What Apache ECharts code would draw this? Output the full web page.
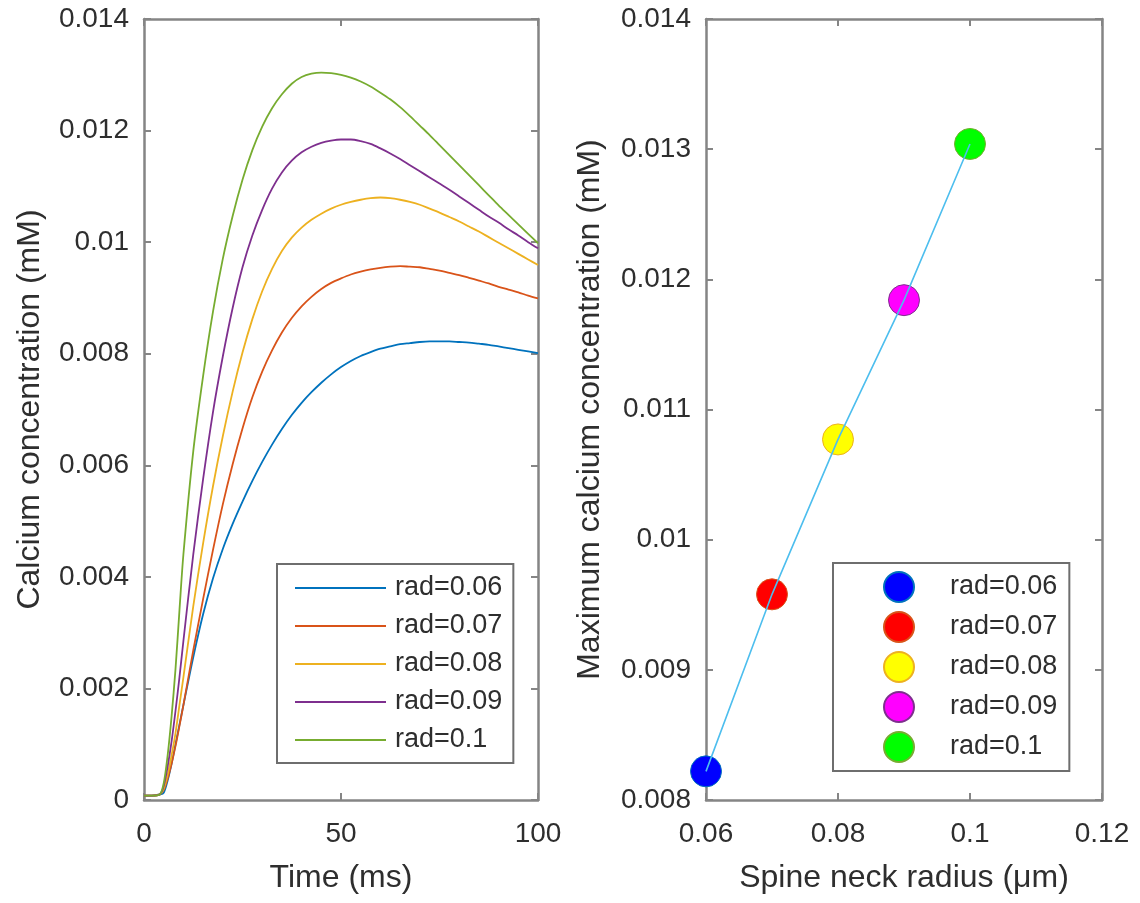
<!DOCTYPE html>
<html>
<head>
<meta charset="utf-8">
<script src="https://cdn.jsdelivr.net/npm/echarts@6/dist/echarts.min.js"></script>
<style>
html,body{margin:0;padding:0;background:#fff;}
#chart{width:1140px;height:903px;}
</style>
</head>
<body>
<div id="chart"></div>
<script>
// ---- Data (left panel: calcium concentration vs time) ----
const timeMs = [0, 2, 4, 5, 6, 7, 8, 9, 10, 12.5, 15, 17.5, 20, 22.5, 25, 27.5, 30, 32.5, 35, 37.5, 40, 42.5, 45, 47.5, 50, 52.5, 55, 57.5, 60, 62.5, 65, 67.5, 70, 72.5, 75, 77.5, 80, 82.5, 85, 87.5, 90, 92.5, 95, 97.5, 100];
const ca006 = [0.00008,0.00008,0.0001,0.00013,0.00035,0.00065,0.001,0.00135,
  0.0017,0.00256,0.00333,0.00397,0.0045,0.00495,0.00535,0.00572,0.00606,0.00637,0.00665,0.0069,0.00712,0.00731,0.00748,0.00763,0.00776,0.00787,0.00796,0.00803,0.00809,0.00813,0.00817,0.00819,0.00821,0.00822,0.00822,0.00822,0.00821,0.0082,0.00818,0.00816,0.00813,0.0081,0.00807,0.00804,0.00801];
const ca007 = [0.00008,0.00008,0.0001,0.00018,0.00038,0.00065,0.00097,0.00133,
  0.0017,0.00268,0.0036,0.00448,0.0053,0.00602,0.00666,0.00722,0.00768,0.00806,0.00838,0.00864,0.00885,0.00902,0.00916,0.00927,0.00935,0.00942,0.00947,0.00951,0.00954,0.00956,0.00957,0.00956,0.00955,0.00952,0.00949,0.00945,0.00941,0.00936,0.00931,0.00926,0.0092,0.00915,0.0091,0.00904,0.00899];
const ca008 = [0.00008,0.00008,0.0001,0.0002,0.00045,0.0008,0.0012,0.0017,
  0.0022,0.00347,0.0046,0.00562,0.00652,0.00732,0.00802,0.00862,0.00912,0.00952,0.00984,0.01008,0.01026,0.0104,0.01051,0.0106,0.01067,0.01072,0.01076,0.01079,0.0108,0.01079,0.01076,0.01072,0.01067,0.0106,0.01053,0.01045,0.01037,0.01028,0.01019,0.01009,0.00999,0.00989,0.00979,0.00969,0.00959];
const ca009 = [0.00008,0.00008,0.0001,0.00025,0.0006,0.00105,0.0016,0.0022,
  0.00285,0.0044,0.00575,0.00695,0.00795,0.00882,0.00955,0.01012,0.01058,0.01096,0.01125,0.01146,0.01161,0.01171,0.01178,0.01182,0.01184,0.01184,0.01181,0.01176,0.01168,0.01159,0.01149,0.01138,0.01127,0.01116,0.01105,0.01094,0.01082,0.0107,0.01058,0.01046,0.01035,0.01023,0.01012,0.01,0.00989];
const ca010 = [0.00008,0.00008,0.0001,0.0003,0.0008,0.0015,0.00235,0.0034,
  0.0044,0.00625,0.0076,0.00875,0.0097,0.01047,0.01112,0.01165,0.01207,0.0124,0.01265,0.01284,0.01296,0.01302,0.01304,0.01303,0.013,0.01295,0.01288,0.01279,0.01268,0.01256,0.01242,0.01226,0.01209,0.01192,0.01174,0.01156,0.01138,0.0112,0.01102,0.01084,0.01066,0.01049,0.01032,0.01015,0.00998];
const seriesNames = ['rad=0.06','rad=0.07','rad=0.08','rad=0.09','rad=0.1'];

// ---- Data (right panel: max calcium vs neck radius) ----
const neckRadius = [0.06, 0.07, 0.08, 0.09, 0.1];
const maxCalcium = [0.00822, 0.00958, 0.01077, 0.01184, 0.01304];

// ---- Tick labels ----
const leftXTicks = ['0','50','100'];
const leftYTicks = ['0','0.002','0.004','0.006','0.008','0.01','0.012','0.014'];
const rightXTicks = ['0.06','0.08','0.1','0.12'];
const rightYTicks = ['0.008','0.009','0.01','0.011','0.012','0.013','0.014'];

const lineColors = ['#0072BD','#D95319','#EDB120','#7E2F8E','#77AC30'];
const markerFill = ['#0000FF','#FF0000','#FFFF00','#FF00FF','#00FF00'];
const FONT = '"Liberation Sans", Arial, Helvetica, sans-serif';
const AX = '#858585';
const TXT = '#2e2e2e';

const curves = [ca006, ca007, ca008, ca009, ca010];

function baseAxis(extra){
  return Object.assign({
    type:'value',
    axisLine:{show:true, onZero:false, lineStyle:{color:AX, width:2.5}},
    axisTick:{show:true, inside:true, length:7, lineStyle:{color:AX, width:2}},
    splitLine:{show:false},
    axisLabel:{color:TXT, fontSize:28, fontFamily:FONT},
    nameTextStyle:{color:TXT, fontSize:32, fontFamily:FONT}
  }, extra);
}

const chart = echarts.init(document.getElementById('chart'), null, {renderer:'canvas'});

const series = [];
curves.forEach((arr, i) => {
  series.push({
    name: 'L:' + seriesNames[i],
    type: 'line',
    xAxisIndex: 0, yAxisIndex: 0,
    data: timeMs.map((t, k) => [t, arr[k]]),
    showSymbol: false, symbol: 'none',
    smooth: 0.3,
    lineStyle: {color: lineColors[i], width: 1.8},
    itemStyle: {color: lineColors[i]},
    z: 2
  });
});
neckRadius.forEach((r, i) => {
  series.push({
    name: 'R:' + seriesNames[i],
    type: 'scatter',
    xAxisIndex: 2, yAxisIndex: 2,
    data: [[r, maxCalcium[i]]],
    symbol: 'circle', symbolSize: 31,
    itemStyle: {color: markerFill[i], borderColor: lineColors[i], borderWidth: 1, opacity: 1},
    z: 2
  });
});
series.push({
  name: 'fit',
  type: 'line',
  xAxisIndex: 2, yAxisIndex: 2,
  data: neckRadius.map((r, i) => [r, maxCalcium[i]]),
  showSymbol: false, symbol: 'none',
  lineStyle: {color: '#4DBEEE', width: 1.6},
  z: 5
});

const option = {
  animation: false,
  backgroundColor: '#fff',
  grid: [
    {left:144, top:19, width:394, height:781},
    {left:706, top:19, width:396, height:781}
  ],
  xAxis: [
    baseAxis({gridIndex:0, position:'bottom', min:0, max:100, interval:50,
      axisLabel:{color:TXT, fontSize:28, fontFamily:FONT, margin:20,
        formatter:v=>leftXTicks[Math.round(v/50)]},
      name:'Time (ms)', nameLocation:'middle', nameGap:62}),
    baseAxis({gridIndex:0, position:'top', min:0, max:100, interval:50, axisLabel:{show:false}}),
    baseAxis({gridIndex:1, position:'bottom', min:0.06, max:0.12, interval:0.02,
      axisLabel:{color:TXT, fontSize:28, fontFamily:FONT, margin:20,
        formatter:v=>rightXTicks[Math.round((v-0.06)/0.02)]},
      name:'Spine neck radius (\u03BCm)', nameLocation:'middle', nameGap:62}),
    baseAxis({gridIndex:1, position:'top', min:0.06, max:0.12, interval:0.02, axisLabel:{show:false}})
  ],
  yAxis: [
    baseAxis({gridIndex:0, position:'left', min:0, max:0.014, interval:0.002,
      axisLabel:{color:TXT, fontSize:28, fontFamily:FONT, margin:15,
        formatter:v=>leftYTicks[Math.round(v/0.002)]},
      name:'Calcium concentration (mM)', nameLocation:'middle', nameGap:98}),
    baseAxis({gridIndex:0, position:'right', min:0, max:0.014, interval:0.002, axisLabel:{show:false}}),
    baseAxis({gridIndex:1, position:'left', min:0.008, max:0.014, interval:0.001,
      axisLabel:{color:TXT, fontSize:28, fontFamily:FONT, margin:15,
        formatter:v=>rightYTicks[Math.round((v-0.008)/0.001)]},
      name:'Maximum calcium concentration (mM)', nameLocation:'middle', nameGap:100}),
    baseAxis({gridIndex:1, position:'right', min:0.008, max:0.014, interval:0.001, axisLabel:{show:false}})
  ],
  legend: [
    {
      data: seriesNames.map(n => 'L:' + n),
      orient:'vertical', left:277, top:564,
      padding:[9, 11, 8, 18],
      icon:'rect',
      itemWidth:91, itemHeight:2, itemGap:8,
      borderColor:'#6e6e6e', borderWidth:2, backgroundColor:'#fff',
      selectedMode:false,
      formatter: n => n.slice(2),
      textStyle:{color:TXT, fontSize:27, fontFamily:FONT, lineHeight:30, padding:[0,0,0,4]}
    },
    {
      data: seriesNames.map(n => 'R:' + n),
      orient:'vertical', left:833, top:563,
      padding:[8, 12, 8, 50],
      itemWidth:92, itemHeight:30, itemGap:8,
      borderColor:'#6e6e6e', borderWidth:2, backgroundColor:'#fff',
      selectedMode:false,
      formatter: n => n.slice(2),
      textStyle:{color:TXT, fontSize:27, fontFamily:FONT, lineHeight:30, padding:[0,0,0,0]}
    }
  ],
  series: series
};
chart.setOption(option);
</script>
</body>
</html>
